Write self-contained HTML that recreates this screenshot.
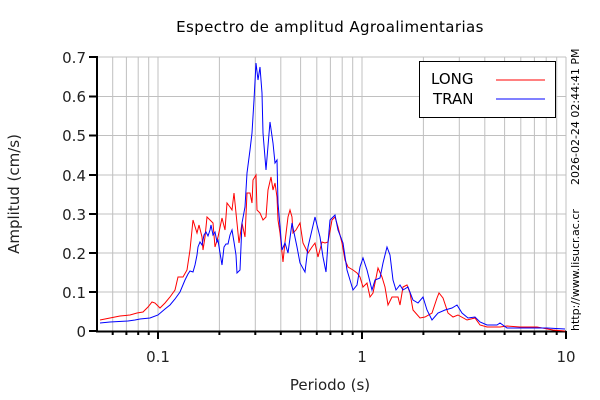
<!DOCTYPE html>
<html><head><meta charset="utf-8"><style>
html,body{margin:0;padding:0;background:#fff;}
svg{display:block;font-family:"DejaVu Sans","Liberation Sans",sans-serif;}
</style></head><body>
<svg width="600" height="400" viewBox="0 0 600 400" xmlns="http://www.w3.org/2000/svg">
<rect width="600" height="400" fill="#fff"/>
<g stroke="#c0c0c0" stroke-width="1">
<line x1="112.7" y1="57" x2="112.7" y2="331"/><line x1="126.4" y1="57" x2="126.4" y2="331"/><line x1="138.2" y1="57" x2="138.2" y2="331"/><line x1="148.7" y1="57" x2="148.7" y2="331"/><line x1="158" y1="57" x2="158" y2="331"/>
<line x1="219.4" y1="57" x2="219.4" y2="331"/><line x1="255.3" y1="57" x2="255.3" y2="331"/><line x1="280.8" y1="57" x2="280.8" y2="331"/><line x1="300.6" y1="57" x2="300.6" y2="331"/><line x1="316.8" y1="57" x2="316.8" y2="331"/><line x1="330.4" y1="57" x2="330.4" y2="331"/><line x1="342.2" y1="57" x2="342.2" y2="331"/><line x1="352.7" y1="57" x2="352.7" y2="331"/><line x1="362" y1="57" x2="362" y2="331"/>
<line x1="423.4" y1="57" x2="423.4" y2="331"/><line x1="459.3" y1="57" x2="459.3" y2="331"/><line x1="484.8" y1="57" x2="484.8" y2="331"/><line x1="504.6" y1="57" x2="504.6" y2="331"/><line x1="520.8" y1="57" x2="520.8" y2="331"/><line x1="534.4" y1="57" x2="534.4" y2="331"/><line x1="546.2" y1="57" x2="546.2" y2="331"/><line x1="556.7" y1="57" x2="556.7" y2="331"/><line x1="566" y1="57" x2="566" y2="331"/>
<line x1="97" y1="292" x2="566" y2="292"/><line x1="97" y1="253" x2="566" y2="253"/><line x1="97" y1="214" x2="566" y2="214"/><line x1="97" y1="175" x2="566" y2="175"/><line x1="97" y1="135.5" x2="566" y2="135.5"/><line x1="97" y1="96.5" x2="566" y2="96.5"/><line x1="97" y1="57" x2="566" y2="57"/>
</g>
<g stroke="#000" stroke-width="2">
<line x1="97" y1="56" x2="97" y2="332"/><line x1="96" y1="331.5" x2="566" y2="331.5"/>
<line x1="89" y1="331" x2="97" y2="331"/><line x1="89" y1="292" x2="97" y2="292"/><line x1="89" y1="253" x2="97" y2="253"/><line x1="89" y1="214" x2="97" y2="214"/><line x1="89" y1="175" x2="97" y2="175"/><line x1="89" y1="135.5" x2="97" y2="135.5"/><line x1="89" y1="96.5" x2="97" y2="96.5"/><line x1="89" y1="57" x2="97" y2="57"/>
<line x1="112.7" y1="331" x2="112.7" y2="335"/><line x1="126.4" y1="331" x2="126.4" y2="335"/><line x1="138.2" y1="331" x2="138.2" y2="335"/><line x1="148.7" y1="331" x2="148.7" y2="335"/><line x1="158" y1="331" x2="158" y2="339"/>
<line x1="219.4" y1="331" x2="219.4" y2="335"/><line x1="255.3" y1="331" x2="255.3" y2="335"/><line x1="280.8" y1="331" x2="280.8" y2="335"/><line x1="300.6" y1="331" x2="300.6" y2="335"/><line x1="316.8" y1="331" x2="316.8" y2="335"/><line x1="330.4" y1="331" x2="330.4" y2="335"/><line x1="342.2" y1="331" x2="342.2" y2="335"/><line x1="352.7" y1="331" x2="352.7" y2="335"/><line x1="362" y1="331" x2="362" y2="339"/>
<line x1="423.4" y1="331" x2="423.4" y2="335"/><line x1="459.3" y1="331" x2="459.3" y2="335"/><line x1="484.8" y1="331" x2="484.8" y2="335"/><line x1="504.6" y1="331" x2="504.6" y2="335"/><line x1="520.8" y1="331" x2="520.8" y2="335"/><line x1="534.4" y1="331" x2="534.4" y2="335"/><line x1="546.2" y1="331" x2="546.2" y2="335"/><line x1="556.7" y1="331" x2="556.7" y2="335"/><line x1="566" y1="331" x2="566" y2="339"/>
</g>
<polyline fill="none" stroke="#ff0000" stroke-width="1" points="100,320 110,318 120,316 130,315 137,313 143,312 148,307 152,302 155,303 160,308 165,303 170,297 175,290 178,277 183,277 187,270 190,250 193,220 197,233 199,225 202,237 203,250 205,237 207,217 210,220 213,223 215,247 218,237 222,218 225,230 227,203 230,207 232,210 234,193 237,223 239,243 242,223 245,237 247,193 250,193 252,203 253,180 256,175 257,210 260,213 263,220 266,217 268,190 271,177 273,190 275,183 277,197 278,220 280,233 283,262 285,242 288,217 290,210 292,217 293,233 296,230 300,223 303,243 308,253 312,247 315,243 318,257 322,242 325,243 328,242 332,220 335,217 338,227 342,243 345,260 348,267 353,270 357,273 360,277 363,287 367,283 370,297 373,293 378,268 382,277 385,287 388,305 392,297 398,297 400,305 403,287 407,285 410,293 413,310 420,318 425,317 432,313 437,298 439,293 443,298 448,313 453,317 458,315 467,320 475,318 480,325 487,327 500,327 507,326 520,327 537,327 553,330 565,331"/>
<polyline fill="none" stroke="#0000ff" stroke-width="1" points="100,323 110,322 128,321 135,320 140,319 150,318 158,315 165,309 170,305 175,299 180,292 185,280 188,274 190,271 193,272 195,265 197,255 198,247 200,242 202,245 204,235 206,232 208,236 210,230 211,225 213,235 215,232 217,242 218,240 220,253 222,265 224,247 226,244 228,244 230,235 232,230 234,242 236,255 237,273 240,270 242,223 245,207 247,173 250,150 252,133 254,100 256,63 258,80 260,67 262,93 263,133 266,170 270,122 273,143 275,163 277,160 278,203 282,250 285,243 288,253 292,223 297,247 300,263 305,272 308,247 315,217 320,237 323,257 326,272 328,243 330,220 335,215 338,230 343,243 347,270 350,280 353,290 357,285 360,267 363,258 367,270 372,290 375,280 380,278 383,263 387,247 390,255 393,280 396,290 400,285 403,290 408,287 413,300 418,303 423,297 427,310 432,320 438,313 445,310 452,308 457,305 462,313 468,318 475,317 480,322 487,325 497,325 500,323 507,328 530,328 547,328 565,329"/>
<rect x="419.5" y="61.5" width="136" height="56" fill="#fff" stroke="#000" stroke-width="1"/>
<text x="431" y="84" font-size="15" fill="#000">LONG</text>
<text x="433" y="104" font-size="15" fill="#000">TRAN</text>
<line x1="496" y1="80" x2="545" y2="80" stroke="#ff0000"/>
<line x1="496" y1="99" x2="545" y2="99" stroke="#0000ff"/>
<g font-size="15" fill="#222" text-anchor="end">
<text x="86" y="337">0</text><text x="86" y="298">0.1</text><text x="86" y="259">0.2</text><text x="86" y="220">0.3</text><text x="86" y="181">0.4</text><text x="86" y="141">0.5</text><text x="86" y="102">0.6</text><text x="86" y="63">0.7</text>
</g>
<g font-size="15" fill="#222" text-anchor="middle">
<text x="158" y="362">0.1</text><text x="362" y="362">1</text><text x="566" y="362">10</text>
<text x="330" y="390">Periodo (s)</text>
<text x="330" y="32" fill="#000" letter-spacing="0.4">Espectro de amplitud Agroalimentarias</text>
<text transform="translate(19,194) rotate(-90)">Amplitud (cm/s)</text>
</g>
<g font-size="11" fill="#000">
<text transform="translate(579,185) rotate(-90)">2026-02-24 02:44:41 PM</text>
<text transform="translate(579,331) rotate(-90)">http://www.lisucr.ac.cr</text>
</g>
</svg>
</body></html>
